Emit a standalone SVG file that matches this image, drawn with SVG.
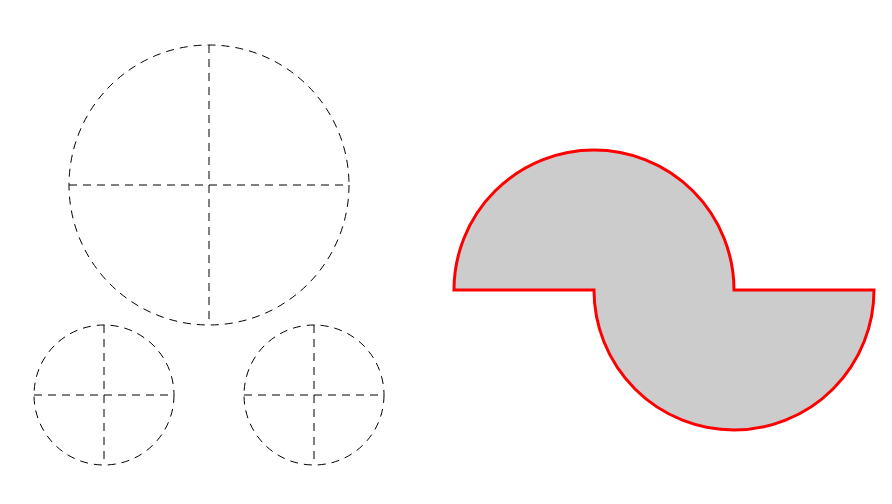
<svg xmlns="http://www.w3.org/2000/svg" width="892" height="504" viewBox="0 0 892 504">
<style>
.d{fill:none;stroke:#000;stroke-width:1;stroke-dasharray:8 6}
.s{fill:#cccccc;stroke:#ff0000;stroke-width:3;stroke-linejoin:miter}
</style>
<rect width="892" height="504" fill="#fff"/>
<g id="big-circle">
<circle class="d" cx="209" cy="185" r="140"/>
<line class="d" x1="69" y1="185" x2="349" y2="185"/>
<line class="d" x1="209" y1="45" x2="209" y2="325"/>
</g>
<g id="small-circle-left">
<circle class="d" cx="104" cy="395" r="70"/>
<line class="d" x1="34" y1="395" x2="174" y2="395"/>
<line class="d" x1="104" y1="325" x2="104" y2="465"/>
</g>
<g id="small-circle-right">
<circle class="d" cx="314" cy="395" r="70"/>
<line class="d" x1="244" y1="395" x2="384" y2="395"/>
<line class="d" x1="314" y1="325" x2="314" y2="465"/>
</g>
<g id="s-shape">
<path class="s" d="M454,290 A140,140 0 0 1 734,290 L874,290 A140,140 0 0 1 594,290 Z"/>
</g>
</svg>
